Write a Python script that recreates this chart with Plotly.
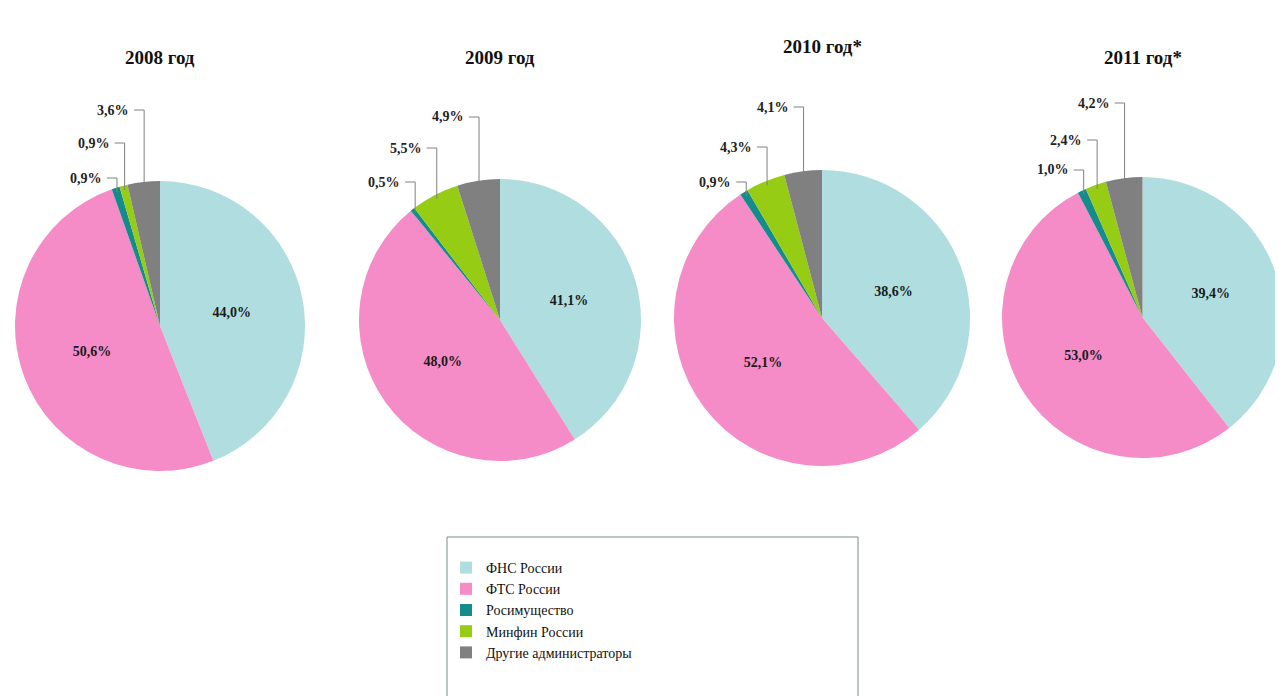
import math
import plotly.graph_objects as go

OFF = 8  # browser body margin
W, H = 1283 - OFF, 696 - OFF

labels = ["ФНС России", "ФТС России", "Росимущество", "Минфин России", "Другие администраторы"]
colors = ["#B0DEE0", "#F58CC8", "#148C8C", "#96CC14", "#808080"]

years = ["2008 год", "2009 год", "2010 год*", "2011 год*"]
v2008 = [44.0, 50.6, 0.9, 0.9, 3.6]
v2009 = [41.1, 48.0, 0.5, 5.5, 4.9]
v2010 = [38.6, 52.1, 0.9, 4.3, 4.1]
v2011 = [39.4, 53.0, 1.0, 2.4, 4.2]
series = [v2008, v2009, v2010, v2011]

# layout (screen pixels)
boxes = [(15, 181, 290), (359, 179, 282), (674, 170, 296), (1002, 177, 281)]
title_y = [57, 57, 47, 57]
levels = [(178, 143, 110), (182, 148, 117), (182, 147, 107), (170, 140, 103)]

def fmt(v):
    return f"{v:.1f}".replace(".", ",") + "%"

def px2p(x, y):
    return (x - OFF) / W, 1 - (y - OFF) / H

fig = go.Figure()
annotations = []
shapes = []

for k, vals in enumerate(series):
    left, top, size = boxes[k]
    x0, y1 = px2p(left, top)
    x1, y0 = px2p(left + size, top + size)
    fig.add_trace(go.Pie(
        labels=labels, values=vals, sort=False, direction="clockwise", rotation=0,
        marker=dict(colors=colors, line=dict(width=0)),
        text=["<b>" + fmt(v) + "</b>" for v in vals], textinfo="text",
        textposition=["inside", "inside", "none", "none", "none"],
        insidetextorientation="horizontal",
        textfont=dict(family="Liberation Serif", size=14, color="#1a1a1a"),
        hoverinfo="label+text",
        domain=dict(x=[max(x0, 0), min(x1, 1)], y=[max(y0, 0), min(y1, 1)]),
        showlegend=(k == 0),
    ))
    cx, cy, r = left + size / 2, top + size / 2, size / 2
    tx, ty = px2p(cx, title_y[k])
    annotations.append(dict(x=tx, y=ty, xref="paper", yref="paper", text="<b>" + years[k] + "</b>",
                            xanchor="center", yanchor="middle", showarrow=False,
                            font=dict(family="Liberation Serif", size=19, color="#111111")))
    total = sum(vals)
    cum = 0
    mids = []
    for v in vals:
        mids.append((cum + v / 2) / total * 2 * math.pi)
        cum += v
    for j, idx in enumerate([2, 3, 4]):
        a = mids[idx]
        pxp = cx + 0.97 * r * math.sin(a)
        pyp = cy - 0.97 * r * math.cos(a)
        ly = levels[k][j]
        stub = pxp - 10
        ax, ay = px2p(pxp, pyp)
        bx, by = px2p(pxp, ly)
        sx, sy = px2p(stub, ly)
        path = f"M {ax},{ay} L {bx},{by} L {sx},{sy}"
        shapes.append(dict(type="path", path=path, xref="paper", yref="paper",
                           line=dict(color="#808080", width=1)))
        lx, lyp = px2p(stub - 3, ly)
        annotations.append(dict(x=lx, y=lyp, xref="paper", yref="paper", text="<b>" + fmt(vals[idx]) + "</b>",
                                xanchor="right", yanchor="middle", showarrow=False,
                                font=dict(family="Liberation Serif", size=14, color="#222222")))

# legend frame
fx0, fy1 = px2p(447, 537)
fx1, fy0 = px2p(858, 700)
shapes.append(dict(type="rect", xref="paper", yref="paper",
                   x0=fx0, x1=fx1, y0=fy0, y1=fy1,
                   line=dict(color="#7A8A8A", width=1), fillcolor="rgba(0,0,0,0)"))

lgx, lgy = px2p(446, 552)
fig.update_layout(
    width=W, height=H, margin=dict(l=0, r=0, t=0, b=0),
    paper_bgcolor="white", plot_bgcolor="white",
    annotations=annotations, shapes=shapes,
    legend=dict(x=lgx, y=lgy, xanchor="left", yanchor="top",
                bgcolor="rgba(0,0,0,0)", borderwidth=0, traceorder="normal",
                itemwidth=30,
                font=dict(family="Liberation Serif", size=14, color="#111111"),
                itemclick=False),
)

fig.write_html("out.html")
